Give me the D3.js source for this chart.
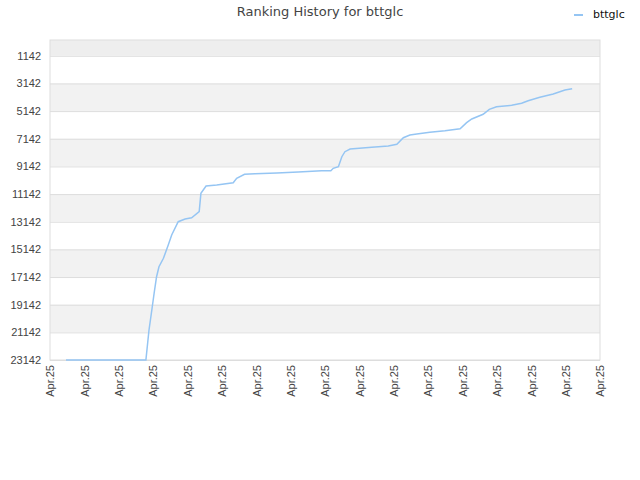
<!DOCTYPE html>
<html>
<head>
<meta charset="utf-8">
<script src="https://cdn.jsdelivr.net/npm/d3@7"></script>
<style>
    body { margin: 0; background: #fff; }
    svg.vis { display: block; font-family: "DejaVu Sans", sans-serif; }
</style>
</head>
<body>
<svg class="vis" width="640" height="480"></svg>
<script>

// positions on the x axis (in tick steps) and ranking at that point
const pos_x = [0.465, 2.79, 2.88, 2.95, 3.03, 3.10, 3.17, 3.30, 3.44, 3.54, 3.73, 3.93, 4.12, 4.34, 4.39, 4.54, 4.85, 5.33, 5.43, 5.66, 5.96, 6.60, 7.22, 7.90, 8.17, 8.24, 8.39, 8.49, 8.58, 8.73, 9.36, 9.84, 10.09, 10.28, 10.47, 10.67, 11.05, 11.49, 11.93, 12.12, 12.27, 12.60, 12.78, 12.99, 13.43, 13.72, 13.91, 14.25, 14.64, 14.98, 15.19];
const ranks = [23142, 23142, 20973, 19743, 18297, 17118, 16395, 15787, 14826, 14102, 13141, 12945, 12852, 12418, 11087, 10559, 10486, 10320, 10002, 9713, 9669, 9619, 9546, 9452, 9452, 9279, 9163, 8440, 8078, 7883, 7760, 7666, 7543, 7066, 6870, 6798, 6675, 6559, 6415, 5981, 5713, 5373, 5012, 4824, 4722, 4578, 4390, 4144, 3905, 3616, 3522];

const x_ticks = d3.range(17);
const x_labels = x_ticks.map(() => "Apr.25");
const y_ticks = [1142, 3142, 5142, 7142, 9142, 11142, 13142, 15142, 17142, 19142, 21142, 23142];

const title = "Ranking History for bttglc";
const series_name = "bttglc";

const vis = {

    dims: {
        w: 640,
        h: 480,
        left: 50,
        right: 600,
        top: 40,
        bottom: 360
    },

    colors: {
        line: "#95c5f3",
        band: "#f2f2f2",
        grid: "#dddddd",
        text: "#444"
    },

    init: function() {
        vis.svg = d3.select("svg.vis");
        vis.draw.scales();
        vis.draw.bands();
        vis.draw.axes();
        vis.draw.line();
        vis.draw.texts();
    },

    draw: {

        scales: function() {
            vis.x = d3.scaleLinear()
              .domain([0, 16])
              .range([vis.dims.left, vis.dims.right]);

            // rank 0 on top, worst rank at the bottom
            vis.y = d3.scaleLinear()
              .domain([0, 23142])
              .range([vis.dims.top, vis.dims.bottom]);
        },

        bands: function() {
            let bounds = [0].concat(y_ticks);
            let pairs = d3.pairs(bounds);

            vis.svg.append("g")
              .selectAll("rect")
              .data(pairs)
              .join("rect")
              .attr("x", vis.dims.left)
              .attr("width", vis.dims.right - vis.dims.left)
              .attr("y", d => vis.y(d[0]))
              .attr("height", d => vis.y(d[1]) - vis.y(d[0]))
              .attr("fill", (d, i) => i == 0 ? "#eeeeee" : (i % 2 == 0 ? vis.colors.band : "#fff"));
        },

        axes: function() {
            let d = vis.dims;

            let y_axis = vis.svg.append("g")
              .attr("transform", `translate(${d.left},0)`)
              .call(d3.axisLeft(vis.y)
                .tickValues(y_ticks)
                .tickSize(-(d.right - d.left))
                .tickPadding(9)
                .tickFormat(d3.format("d")));

            y_axis.select(".domain").remove();
            y_axis.selectAll(".tick line").attr("stroke", vis.colors.grid);
            y_axis.selectAll(".tick text")
              .attr("fill", vis.colors.text)
              .style("font-size", "11px");

            let x_axis = vis.svg.append("g")
              .attr("transform", `translate(0,${d.bottom})`)
              .call(d3.axisBottom(vis.x)
                .tickValues(x_ticks)
                .tickSize(0)
                .tickFormat((t, i) => x_labels[i]));

            x_axis.select(".domain").remove();
            x_axis.selectAll(".tick text")
              .attr("fill", vis.colors.text)
              .style("font-size", "11px")
              .attr("text-anchor", "end")
              .attr("transform", "rotate(-90)")
              .attr("x", -5)
              .attr("y", 0)
              .attr("dy", "0.35em");

            // frame
            vis.svg.append("rect")
              .attr("x", d.left)
              .attr("y", d.top)
              .attr("width", d.right - d.left)
              .attr("height", d.bottom - d.top)
              .attr("fill", "none")
              .attr("stroke", vis.colors.grid);
        },

        line: function() {
            let points = pos_x.map((v, i) => [v, ranks[i]]);

            vis.svg.append("path")
              .datum(points)
              .attr("fill", "none")
              .attr("stroke", vis.colors.line)
              .attr("stroke-width", 1.5)
              .attr("d", d3.line()
                .x(p => vis.x(p[0]))
                .y(p => vis.y(p[1])));
        },

        texts: function() {
            vis.svg.append("text")
              .attr("x", 320)
              .attr("y", 16)
              .attr("text-anchor", "middle")
              .attr("fill", vis.colors.text)
              .style("font-size", "13px")
              .text(title);

            vis.svg.append("line")
              .attr("x1", 574)
              .attr("x2", 583)
              .attr("y1", 15)
              .attr("y2", 15)
              .attr("stroke", vis.colors.line)
              .attr("stroke-width", 2);

            vis.svg.append("text")
              .attr("x", 593)
              .attr("y", 18)
              .attr("fill", "#111")
              .style("font-size", "11px")
              .text(series_name);
        }
    }
};

vis.init();

</script>
</body>
</html>
